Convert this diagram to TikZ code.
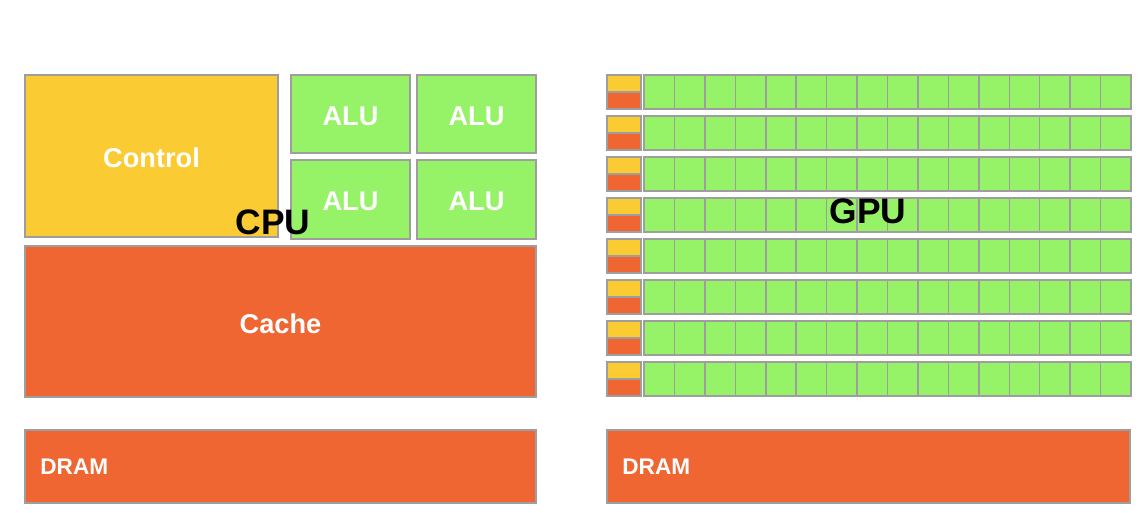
\documentclass[tikz,border=0pt]{standalone}
\usepackage{fontspec}
\setmainfont{Liberation Sans}
\begin{document}
\begin{tikzpicture}[x=0.5pt,y=-0.5pt,
  blk/.style={draw=black!38, line width=0.75pt, anchor=north west, inner sep=0pt, outer sep=0pt},
  ctrl/.style={blk, fill=ctrlY},
  cach/.style={blk, fill=cacheO},
  alu/.style={blk, fill=aluG},
  wlbl/.style={text=white, yshift=-1pt, font=\bfseries\fontsize{13.6}{13.6}\selectfont},
  dlbl/.style={text=white, font=\bfseries\fontsize{11.3}{11.3}\selectfont, anchor=west, inner sep=0pt},
  big/.style={text=black, font=\bfseries\fontsize{17.7}{17.7}\selectfont}]
\definecolor{ctrlY}{HTML}{FBCB33}
\definecolor{cacheO}{HTML}{EF6633}
\definecolor{aluG}{HTML}{96F266}
\useasboundingbox (0,0) rectangle (1140,513);
% CPU
\node[ctrl, minimum width=126.5pt, minimum height=81pt] (control) at (25,75) {};
\node[wlbl] at (control.center) {Control};
\node[alu, minimum width=59.5pt, minimum height=39pt] (alu1) at (291,75) {};
\node[alu, minimum width=59.5pt, minimum height=39pt] (alu2) at (417,75) {};
\node[alu, minimum width=59.5pt, minimum height=39.5pt] (alu3) at (291,160) {};
\node[alu, minimum width=59.5pt, minimum height=39.5pt] (alu4) at (417,160) {};
\foreach \a in {1,...,4} \node[wlbl] at (alu\a.center) {ALU};
\node[cach, minimum width=255.5pt, minimum height=75.5pt] (cache) at (25,246) {};
\node[wlbl] at (cache.center) {Cache};
\node[cach, minimum width=255.5pt, minimum height=36.5pt] (cdram) at (25,430) {};
\node[dlbl] at ([xshift=7.5pt]cdram.west) {DRAM};
\node[big] (cpu) at (273,222) {CPU};
% GPU
\foreach \r in {0,...,7} {
  \pgfmathsetmacro{\yy}{75+41*\r}
  \node[ctrl, minimum width=17pt, minimum height=8.5pt] (gc\r) at (607,\yy) {};
  \node[cach, minimum width=17pt, minimum height=8.5pt] (gk\r) at (607,\yy+17) {};
  \foreach \c in {0,...,15} {
    \pgfmathsetmacro{\xx}{644+30.44*\c}
    \node[alu, minimum width=15.22pt, minimum height=17pt] (g\r-\c) at (\xx,\yy) {};
  }
}
\node[cach, minimum width=261.5pt, minimum height=36.5pt] (gdram) at (607,430) {};
\node[dlbl] at ([xshift=7.5pt]gdram.west) {DRAM};
\node[big] (gpu) at (868,211) {GPU};
\end{tikzpicture}
\end{document}
